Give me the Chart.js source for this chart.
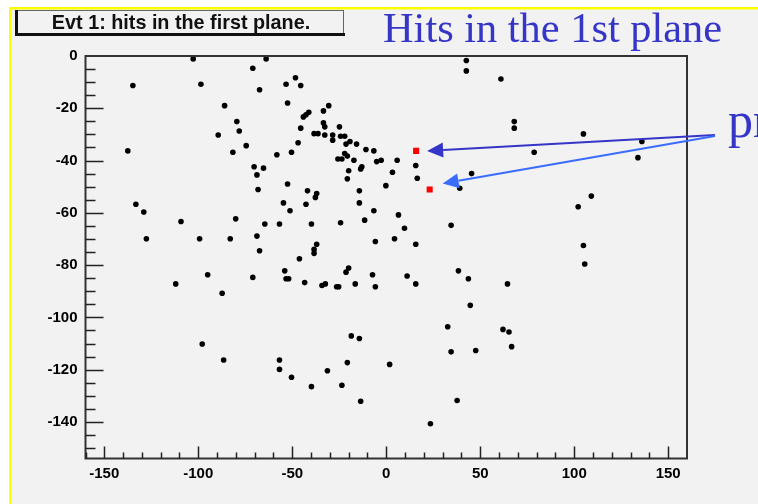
<!DOCTYPE html>
<html>
<head>
<meta charset="utf-8">
<script src="https://cdn.jsdelivr.net/npm/chart.js@4.4.1/dist/chart.umd.min.js"></script>
<style>
  html, body { margin: 0; padding: 0; background: #ffffff; }
  #wrap { width: 758px; height: 504px; position: relative; }
</style>
</head>
<body>
<div id="wrap"><canvas id="c" width="758" height="504"></canvas></div>
<script>
// Hit positions in the first plane (x, y), event 1
const hitsX = [
  -102.7,-134.8,-98.6,-86.0,-79.5,-78.2,-89.4,-137.5,-81.6,
  -63.9,-71.0,-48.3,-53.3,-45.5,-67.4,-52.5,-30.6,-33.4,-41.2,
  -42.7,-44.1,-33.4,-32.7,-24.9,-45.5,-38.4,-36.3,-32.7,-28.5,
  -24.3,-22.1,-28.5,-19.3,-21.4,-15.8,-46.9,-74.5,-10.8,-6.6,
  -50.4,-58.2,-22.1,-20.7,-25.7,-23.6,-17.2,-13.0,-13.6,-5.1,
  -2.7,-70.3,-65.3,-68.8,-20.0,-20.7,
  42.6,42.6,61.0,68.1,68.1,78.7,5.8,15.7,3.3,16.5,45.4,
  104.9,136.0,133.9,109.1,102.1,
  -133.2,-129.0,-109.2,-80.1,-127.6,-99.3,-83.0,-95.0,-112.0,-87.3,
  -52.5,-0.2,-68.2,-41.9,-37.0,-37.7,-14.3,-54.7,-42.7,-14.3,
  -51.2,-6.6,-64.6,-56.8,-39.8,-24.3,-11.5,-68.8,-67.4,-5.8,
  -37.0,-38.4,-38.4,-46.2,-20.0,-21.4,-54.0,-71.0,-53.3,-51.9,
  -7.3,-43.4,-34.2,-32.4,-26.4,-25.3,-16.5,-5.8,
  39.1,6.5,9.7,34.5,4.4,15.7,11.1,15.7,38.4,43.7,64.5,44.7,
  -97.9,-86.5,-56.8,-56.8,-50.4,-39.8,-31.3,-23.6,-20.7,-18.6,-14.3,-13.6,1.8,
  104.9,105.6,32.7,62.1,65.3,66.7,34.5,47.6,37.7,23.5
];
const hitsY = [
  -1.1,-11.3,-10.8,-19.0,-25.1,-28.7,-30.2,-36.3,-36.8,
  -1.1,-4.7,-8.3,-10.8,-11.3,-12.9,-18.0,-19.0,-21.0,-21.5,
  -22.5,-23.3,-25.6,-27.1,-27.1,-27.6,-29.7,-29.7,-30.2,-30.2,
  -30.7,-30.7,-32.2,-32.7,-33.7,-33.7,-33.2,-34.3,-35.8,-36.3,
  -36.8,-37.8,-37.3,-38.3,-39.4,-39.4,-39.9,-42.4,-43.2,-40.4,
  -39.9,-42.4,-42.9,-45.5,-43.9,-47.0,
  -1.7,-5.7,-8.8,-25.1,-27.6,-36.8,-39.9,-41.9,-44.5,-46.8,-45.0,
  -29.8,-32.7,-38.9,-53.6,-57.7,
  -56.7,-59.7,-63.3,-62.3,-69.9,-69.9,-69.9,-83.7,-87.2,-90.8,
  -49.0,-49.6,-51.1,-51.6,-52.6,-54.1,-51.6,-56.2,-56.7,-56.2,
  -59.2,-59.2,-64.3,-64.3,-64.3,-63.8,-62.8,-68.9,-74.5,-71.0,
  -72.0,-74.0,-75.5,-77.6,-81.1,-82.7,-82.2,-84.7,-85.2,-85.2,
  -83.7,-86.7,-87.8,-87.2,-88.3,-88.3,-87.2,-88.3,
  -50.6,-60.8,-65.9,-64.8,-69.9,-72.0,-84.2,-87.2,-82.2,-85.2,-87.2,-95.4,
  -110.2,-116.3,-116.3,-119.9,-122.9,-126.5,-120.4,-126.0,-117.3,-107.1,-108.1,-132.1,-118.0,
  -72.5,-79.6,-103.6,-104.6,-105.6,-111.2,-113.2,-112.7,-131.8,-140.7
];
// The two highlighted hits
const markedX = [15.9, 23.1];
const markedY = [-36.3, -51.1];

const xTicks = [-150, -100, -50, 0, 50, 100, 150];
const yTicks = [0, -20, -40, -60, -80, -100, -120, -140];
const xMinorStep = 10;
const yMinorStep = 5;

const padTitle = 'Evt 1: hits in the first plane.';
const slideTitle = 'Hits in the 1st plane';
const calloutText = 'pr';

const BG = '#f2f2f2';
const BLUE_DARK = '#3535c8';
const BLUE_LIGHT = '#3a6cff';

function arrow(ctx, x0, y0, x1, y1, color, head, halfW) {
  const a = Math.atan2(y1 - y0, x1 - x0);
  const bx = x1 - head * Math.cos(a), by = y1 - head * Math.sin(a);
  ctx.save();
  ctx.strokeStyle = color; ctx.fillStyle = color; ctx.lineWidth = 2;
  ctx.beginPath(); ctx.moveTo(x0, y0); ctx.lineTo(bx, by); ctx.stroke();
  ctx.beginPath();
  ctx.moveTo(x1, y1);
  ctx.lineTo(bx + halfW * Math.sin(a), by - halfW * Math.cos(a));
  ctx.lineTo(bx - halfW * Math.sin(a), by + halfW * Math.cos(a));
  ctx.closePath(); ctx.fill();
  ctx.restore();
}

const rootFrame = {
  id: 'rootFrame',
  beforeDraw(chart) {
    const ctx = chart.ctx;
    ctx.save();
    ctx.fillStyle = '#ffffff';
    ctx.fillRect(0, 0, chart.width, chart.height);
    ctx.fillStyle = BG;
    ctx.fillRect(10, 8, chart.width - 10, chart.height - 8);
    ctx.fillStyle = '#ffff00';
    ctx.fillRect(10, 7, chart.width - 10, 2.5);
    ctx.fillRect(9, 7, 2.5, chart.height - 7);

    // title pave with its shadow
    ctx.fillStyle = BG;
    ctx.fillRect(16, 10, 328, 24);
    ctx.strokeStyle = '#666';
    ctx.lineWidth = 1;
    ctx.strokeRect(16.5, 10.5, 327, 23);
    ctx.fillStyle = '#111';
    ctx.fillRect(15, 10, 3, 26);
    ctx.fillRect(15, 33, 330, 3);
    ctx.fillStyle = '#111';
    ctx.font = 'bold 19.8px "Liberation Sans", Arial, sans-serif';
    ctx.textAlign = 'center';
    ctx.textBaseline = 'alphabetic';
    ctx.fillText(padTitle, 181, 29);
    ctx.restore();
  },
  afterDatasetsDraw(chart) {
    const ctx = chart.ctx;
    const { left, right, top, bottom } = chart.chartArea;
    const xs = chart.scales.x, ys = chart.scales.y;
    ctx.save();
    // frame
    ctx.strokeStyle = '#333';
    ctx.lineWidth = 2;
    ctx.strokeRect(left, top, right - left, bottom - top);
    // ticks pointing into the frame
    ctx.lineWidth = 1.5;
    ctx.strokeStyle = '#222';
    ctx.beginPath();
    for (let v = -160; v <= 160; v += xMinorStep) {
      const px = Math.round(xs.getPixelForValue(v)) + 0.5;
      if (px < left + 1 || px > right - 1) continue;
      const len = (v % 50 === 0) ? 12 : 6;
      ctx.moveTo(px, bottom); ctx.lineTo(px, bottom - len);
    }
    for (let v = 0; v >= -155; v -= yMinorStep) {
      const py = Math.round(ys.getPixelForValue(v)) + 0.5;
      if (py < top + 1 || py > bottom - 1) continue;
      const len = (v % 20 === 0) ? 18 : 10;
      ctx.moveTo(left, py); ctx.lineTo(left + len, py);
    }
    ctx.stroke();

    // callout arrows towards the highlighted hits
    const startX = 715, startY = 135;
    const t1x = xs.getPixelForValue(markedX[0]) + 11, t1y = ys.getPixelForValue(markedY[0]);
    const t2x = xs.getPixelForValue(markedX[1]) + 13, t2y = ys.getPixelForValue(markedY[1]) - 6;
    arrow(ctx, startX, startY, t1x, t1y, BLUE_DARK, 16, 7.5);
    arrow(ctx, startX, startY + 1, t2x, t2y, BLUE_LIGHT, 16, 7.5);

    // slide texts
    ctx.fillStyle = BLUE_DARK;
    ctx.font = '42.4px "Liberation Serif", "Times New Roman", serif';
    ctx.textAlign = 'left';
    ctx.textBaseline = 'alphabetic';
    ctx.fillText(slideTitle, 383, 42);
    ctx.font = '50px "Liberation Serif", "Times New Roman", serif';
    ctx.fillText(calloutText, 728, 137);
    ctx.restore();
  }
};

const ctx = document.getElementById('c').getContext('2d');
new Chart(ctx, {
  type: 'scatter',
  data: {
    datasets: [
      {
        label: 'hits',
        data: hitsX.map((x, i) => ({ x, y: hitsY[i] })),
        backgroundColor: '#000',
        borderColor: '#000',
        borderWidth: 0,
        pointStyle: 'circle',
        pointRadius: 2.8,
        pointHoverRadius: 2.8
      },
      {
        label: 'marked',
        data: markedX.map((x, i) => ({ x, y: markedY[i] })),
        backgroundColor: '#ff0000',
        borderColor: '#ff0000',
        borderWidth: 0,
        pointStyle: 'rect',
        pointRadius: 4.3,
        pointHoverRadius: 4.3
      }
    ]
  },
  options: {
    responsive: false,
    animation: false,
    devicePixelRatio: 1,
    layout: { padding: { left: 0, top: 56, right: 71, bottom: 0 } },
    plugins: { legend: { display: false }, tooltip: { enabled: false }, title: { display: false } },
    scales: {
      x: {
        type: 'linear',
        min: -160, max: 160,
        afterBuildTicks: s => { s.ticks = xTicks.map(v => ({ value: v })); },
        afterFit: s => { s.height = 45.5; },
        grid: { display: false, drawTicks: false },
        border: { display: false },
        ticks: {
          color: '#000',
          padding: 6,
          maxRotation: 0,
          font: { family: '"Liberation Sans", Arial, sans-serif', size: 15, weight: 'bold' }
        }
      },
      y: {
        type: 'linear',
        min: -154, max: 0,
        afterBuildTicks: s => { s.ticks = yTicks.map(v => ({ value: v })); },
        afterFit: s => { s.width = 85.5; },
        grid: { display: false, drawTicks: false },
        border: { display: false },
        ticks: {
          color: '#000',
          padding: 8,
          font: { family: '"Liberation Sans", Arial, sans-serif', size: 15, weight: 'bold' }
        }
      }
    }
  },
  plugins: [rootFrame]
});
</script>
</body>
</html>
